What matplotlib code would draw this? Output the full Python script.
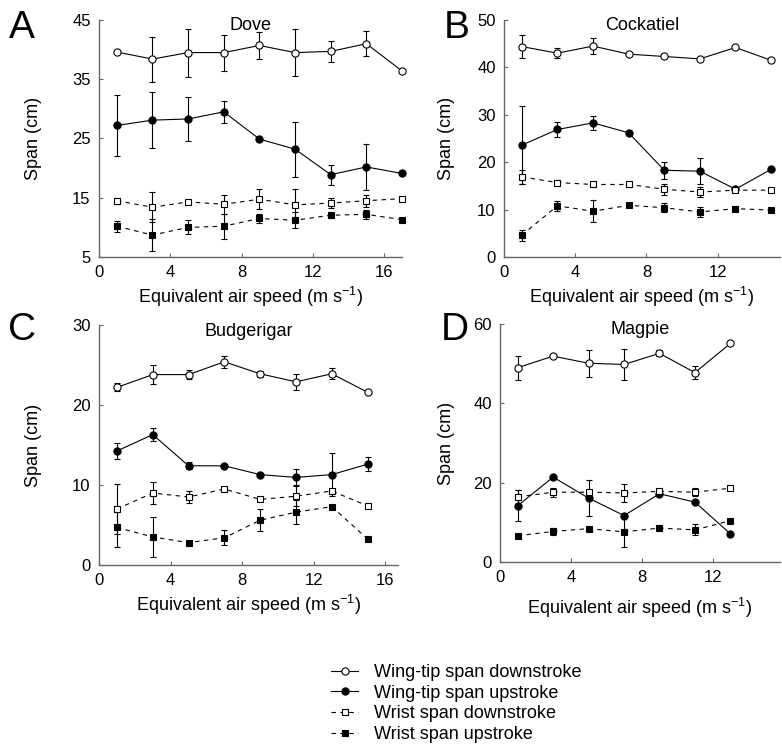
import matplotlib
matplotlib.use('Agg')
import matplotlib.pyplot as plt
from matplotlib.lines import Line2D

plt.rcParams['font.family'] = ['Liberation Sans', 'DejaVu Sans']
plt.rcParams['mathtext.fontset'] = 'custom'
plt.rcParams['mathtext.rm'] = 'Liberation Sans'
plt.rcParams['mathtext.it'] = 'Liberation Sans:italic'
plt.rcParams['mathtext.default'] = 'regular'

# ---------------- data ----------------
dove_speed = [1, 3, 5, 7, 9, 11, 13, 15, 17]
dove_tip_down = [39.6, 38.4, 39.5, 39.5, 40.7, 39.5, 39.7, 41.0, 36.4]
dove_tip_down_err = [0, 3.8, 4.05, 3.05, 2.25, 3.9, 1.75, 2.1, 0]
dove_tip_up = [27.2, 28.1, 28.3, 29.5, 24.9, 23.2, 18.9, 20.2, 19.1]
dove_tip_up_err = [5.2, 4.7, 3.65, 1.85, 0, 4.65, 1.7, 3.9, 0]
dove_wrist_down = [14.5, 13.4, 14.3, 13.9, 14.75, 13.8, 14.1, 14.5, 14.85]
dove_wrist_down_err = [0.5, 2.5, 0.4, 1.6, 1.7, 2.7, 0.85, 1.0, 0]
dove_wrist_up = [10.2, 8.7, 10.0, 10.2, 11.5, 11.2, 12.05, 12.2, 11.3]
dove_wrist_up_err = [0.9, 2.7, 1.2, 2.1, 0.8, 1.35, 0.4, 0.8, 0]

cock_speed = [1, 3, 5, 7, 9, 11, 13, 15]
cock_tip_down = [44.4, 43.0, 44.5, 42.8, 42.3, 41.8, 44.2, 41.5]
cock_tip_down_err = [2.35, 1.1, 1.6, 0, 0, 0, 0, 0]
cock_tip_up = [23.6, 26.9, 28.3, 26.2, 18.3, 18.1, 14.3, 18.5]
cock_tip_up_err = [8.2, 1.6, 1.5, 0, 1.75, 2.7, 0, 0]
cock_wrist_down = [16.9, 15.7, 15.3, 15.3, 14.3, 13.7, 14.1, 14.1]
cock_wrist_down_err = [1.4, 0.5, 0, 0.5, 1.2, 1.05, 0, 0]
cock_wrist_up = [4.6, 10.8, 9.65, 10.9, 10.4, 9.5, 10.2, 9.9]
cock_wrist_up_err = [1.15, 1.05, 2.35, 0, 0.9, 1.05, 0, 0]

budg_speed = [1, 3, 5, 7, 9, 11, 13, 15]
budg_tip_down = [22.2, 23.8, 23.8, 25.4, 23.9, 22.9, 23.9, 21.6]
budg_tip_down_err = [0.5, 1.2, 0.55, 0.75, 0.4, 1.0, 0.7, 0]
budg_tip_up = [14.25, 16.3, 12.4, 12.4, 11.3, 10.95, 11.3, 12.6]
budg_tip_up_err = [1.05, 0.8, 0.45, 0, 0, 1.0, 2.7, 0.85]
budg_wrist_down = [7.0, 9.0, 8.5, 9.5, 8.2, 8.6, 9.25, 7.4]
budg_wrist_down_err = [3.1, 1.35, 0.8, 0, 0, 1.25, 0, 0]
budg_wrist_up = [4.7, 3.5, 2.8, 3.4, 5.6, 6.6, 7.3, 3.25]
budg_wrist_up_err = [2.5, 2.5, 0, 0.95, 1.35, 1.5, 0, 0]

magp_speed = [1, 3, 5, 7, 9, 11, 13]
magp_tip_down = [49.0, 51.9, 50.1, 49.8, 52.6, 47.75, 55.1]
magp_tip_down_err = [3.0, 0, 3.35, 3.9, 0.75, 1.7, 0]
magp_tip_up = [14.2, 21.4, 16.1, 11.7, 17.2, 15.1, 7.1]
magp_tip_up_err = [3.9, 0, 4.6, 0, 0, 0, 0]
magp_wrist_down = [16.4, 17.6, 17.6, 17.4, 17.8, 17.6, 18.6]
magp_wrist_down_err = [1.7, 1.1, 0, 2.3, 0, 1.0, 0]
magp_wrist_up = [6.6, 7.7, 8.4, 7.6, 8.55, 8.1, 10.4]
magp_wrist_up_err = [0, 0.8, 0, 3.8, 0, 1.4, 0]

series_labels = ['Wing-tip span downstroke', 'Wing-tip span upstroke',
                 'Wrist span downstroke', 'Wrist span upstroke']

W, H = 782, 745
fig = plt.figure(figsize=(W / 100, H / 100), dpi=100)


def px_axes(x0, x1, ytop, ybot):
    return [x0 / W, 1 - ybot / H, (x1 - x0) / W, (ybot - ytop) / H]


styles = [
    dict(marker='o', mfc='white', ls='-', ms=5.2),
    dict(marker='o', mfc='black', ls='-', ms=5.2),
    dict(marker='s', mfc='white', ls=(0, (4, 4)), ms=5.0),
    dict(marker='s', mfc='black', ls=(0, (4, 4)), ms=5.0),
]

panels = [
    dict(letter='A', name='Dove', rect=(99, 402, 20, 257), letterpos=(22, 28),
         x=dove_speed, xlim=(0, 17), xticks=[0, 4, 8, 12, 16],
         ylim=(5, 45), yticks=[5, 15, 25, 35, 45], ylab_dx=57, xlab_dy=40,
         data=[(dove_tip_down, dove_tip_down_err), (dove_tip_up, dove_tip_up_err),
               (dove_wrist_down, dove_wrist_down_err), (dove_wrist_up, dove_wrist_up_err)]),
    dict(letter='B', name='Cockatiel', rect=(504, 780, 20, 257), letterpos=(457, 28),
         x=cock_speed, xlim=(0, 15.5), xticks=[0, 4, 8, 12],
         ylim=(0, 50), yticks=[0, 10, 20, 30, 40, 50], ylab_dx=49, xlab_dy=40,
         data=[(cock_tip_down, cock_tip_down_err), (cock_tip_up, cock_tip_up_err),
               (cock_wrist_down, cock_wrist_down_err), (cock_wrist_up, cock_wrist_up_err)]),
    dict(letter='C', name='Budgerigar', rect=(99, 398, 325, 565), letterpos=(22, 330),
         x=budg_speed, xlim=(0, 16.7), xticks=[0, 4, 8, 12, 16],
         ylim=(0, 30), yticks=[0, 10, 20, 30], ylab_dx=57, xlab_dy=40,
         data=[(budg_tip_down, budg_tip_down_err), (budg_tip_up, budg_tip_up_err),
               (budg_wrist_down, budg_wrist_down_err), (budg_wrist_up, budg_wrist_up_err)]),
    dict(letter='D', name='Magpie', rect=(500, 780, 324, 562), letterpos=(455, 330),
         x=magp_speed, xlim=(0, 15.8), xticks=[0, 4, 8, 12],
         ylim=(0, 60), yticks=[0, 20, 40, 60], ylab_dx=45, xlab_dy=46,
         data=[(magp_tip_down, magp_tip_down_err), (magp_tip_up, magp_tip_up_err),
               (magp_wrist_down, magp_wrist_down_err), (magp_wrist_up, magp_wrist_up_err)]),
]

axcol = '#666666'
for p in panels:
    x0, x1, yt, yb = p['rect']
    ax = fig.add_axes(px_axes(x0, x1, yt, yb))
    xs = p['x']
    for (vals, errs), st in zip(p['data'], styles):
        ex = [x for x, e in zip(xs, errs) if e > 0]
        ey = [v for v, e in zip(vals, errs) if e > 0]
        ee = [e for e in errs if e > 0]
        if ex:
            ax.errorbar(ex, ey, yerr=ee, fmt='none', ecolor='black', elinewidth=0.8,
                        capsize=2.5, capthick=0.8, zorder=2)
        ax.plot(xs, vals, color='black', lw=0.8, ls=st['ls'], marker=st['marker'],
                mfc=st['mfc'], mec='black', mew=0.8, ms=st['ms'], zorder=3,
                clip_on=False)
    ax.set_xlim(*p['xlim'])
    ax.set_ylim(*p['ylim'])
    ax.set_xticks(p['xticks'])
    ax.set_yticks(p['yticks'])
    for s in ['top', 'right']:
        ax.spines[s].set_visible(False)
    for s in ['left', 'bottom']:
        ax.spines[s].set_color(axcol)
        ax.spines[s].set_linewidth(1.0)
    ax.tick_params(direction='in', length=3, width=0.8, color=axcol,
                   labelsize=12, pad=6)
    ax.set_ylabel('Span (cm)', fontsize=13)
    ax.yaxis.set_label_coords(-p['ylab_dx'] / (x1 - x0), 0.5)
    ax.set_xlabel('Equivalent air speed (m s$^{-1}$)', fontsize=13)
    ax.xaxis.set_label_coords(0.5, -p['xlab_dy'] / (yb - yt))
    ax.xaxis.label.set_verticalalignment('center')
    ax.text(0.5, 1 - 6 / (yb - yt), p['name'], transform=ax.transAxes,
            ha='center', va='center', fontsize=13)
    lx, ly = p['letterpos']
    fig.text(lx / W, 1 - ly / H, p['letter'], fontsize=28, ha='center', va='center')

handles = [Line2D([], [], color='black', lw=0.8, ls=st['ls'], marker=st['marker'],
                  mfc=st['mfc'], mec='black', mew=0.8, ms=st['ms'])
           for st in styles]
fig.legend(handles, series_labels, loc='upper left',
           bbox_to_anchor=(322 / W, 1 - 655 / H), frameon=False, fontsize=13,
           handlelength=1.5, handletextpad=0.9, labelspacing=0.2, borderpad=0)

fig.savefig('out.png', dpi=100)
